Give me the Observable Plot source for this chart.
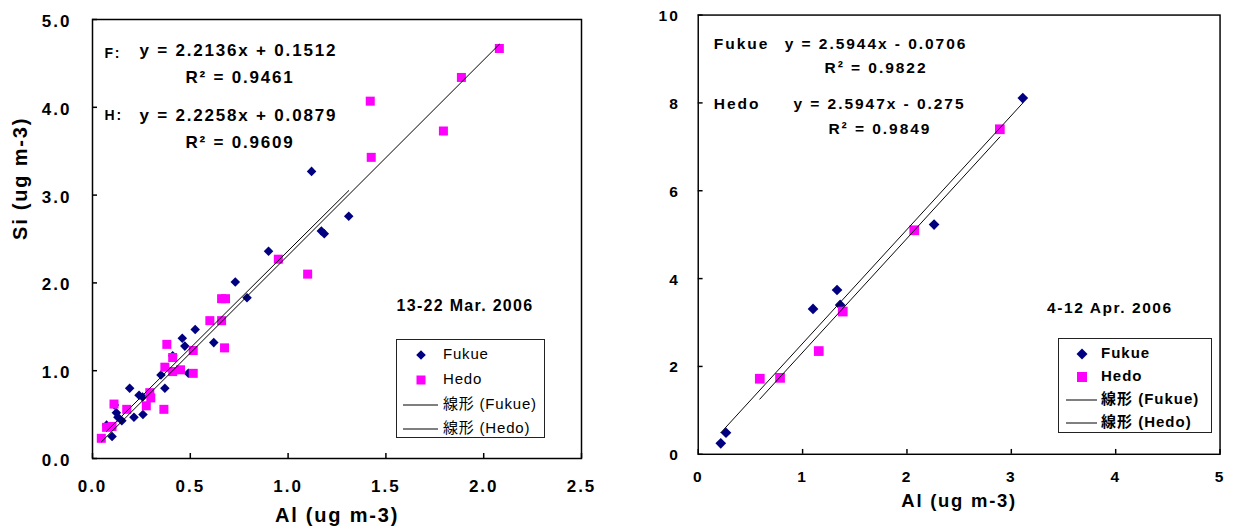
<!DOCTYPE html>
<html><head><meta charset="utf-8">
<script src="https://cdn.jsdelivr.net/npm/d3@7"></script>
<script src="https://cdn.jsdelivr.net/npm/@observablehq/plot@0.6"></script>
<style>
html,body{margin:0;padding:0;background:#fff;width:1239px;height:529px;overflow:hidden;position:relative;}
#left{position:absolute;left:0;top:0;}
#right{position:absolute;left:620px;top:0;}
svg text{font-family:"Liberation Sans","Noto Sans CJK JP",sans-serif;}
.legend{position:absolute;border:1px solid #222;background:#fff;font-family:"Liberation Sans","Noto Sans CJK JP",sans-serif;font-size:15px;color:#000;box-sizing:border-box;}
.legend .lbl{position:absolute;line-height:20px;height:20px;white-space:nowrap;}
.legend svg{position:absolute;overflow:visible;}
</style>
</head><body>
<div id="left"></div>
<div id="right"></div>
<script>
// ---------- data: 13-22 Mar. 2006 ----------
const leftFukueAl = [1.12, 1.31, 1.17, 1.185, 0.90, 0.73, 0.79, 0.525, 0.62, 0.459, 0.472, 0.49, 0.41, 0.35, 0.37, 0.19, 0.238, 0.256, 0.212, 0.258, 0.112, 0.122, 0.13, 0.15, 0.10, 0.072];
const leftFukueSi = [3.27, 2.76, 2.59, 2.56, 2.36, 2.01, 1.83, 1.47, 1.32, 1.37, 1.28, 0.97, 1.17, 0.95, 0.80, 0.80, 0.72, 0.70, 0.47, 0.50, 0.61, 0.52, 0.47, 0.43, 0.25, 0.38];
const leftHedoAl = [2.08, 1.886, 1.42, 1.794, 1.425, 0.95, 1.10, 0.66, 0.68, 0.60, 0.66, 0.675, 0.38, 0.515, 0.515, 0.41, 0.37, 0.41, 0.45, 0.365, 0.293, 0.298, 0.275, 0.175, 0.11, 0.072, 0.10, 0.045];
const leftHedoSi = [4.67, 4.34, 4.07, 3.73, 3.43, 2.27, 2.10, 1.82, 1.82, 1.57, 1.57, 1.26, 1.30, 1.23, 0.97, 1.15, 1.04, 0.99, 1.01, 0.56, 0.75, 0.69, 0.60, 0.56, 0.62, 0.355, 0.365, 0.23];
const leftSlopes = [2.2136, 2.2258];
const leftIntercepts = [0.1512, 0.0879];
const leftXTicks = [0, 0.5, 1.0, 1.5, 2.0, 2.5];
const leftYTicks = [0, 1, 2, 3, 4, 5];
const leftNotes = ["F:", "y = 2.2136x + 0.1512", "R² = 0.9461", "H:", "y = 2.2258x + 0.0879", "R² = 0.9609", "13-22 Mar. 2006"];

// ---------- data: 4-12 Apr. 2006 ----------
const rightFukueAl = [3.11, 2.26, 1.33, 1.36, 1.10, 0.266, 0.216];
const rightFukueSi = [8.11, 5.23, 3.74, 3.40, 3.31, 0.49, 0.25];
const rightHedoAl = [2.89, 2.07, 1.385, 1.155, 0.59, 0.784];
const rightHedoSi = [7.40, 5.10, 3.25, 2.35, 1.72, 1.74];
const rightSlopes = [2.5944, 2.5947];
const rightIntercepts = [-0.0706, -0.275];
const rightXTicks = [0, 1, 2, 3, 4, 5];
const rightYTicks = [0, 2, 4, 6, 8, 10];
const rightNotes = ["Fukue", "y = 2.5944x - 0.0706", "R² = 0.9822", "Hedo", "y = 2.5947x - 0.275", "R² = 0.9849", "4-12 Apr. 2006"];

const xTitle = "Al (ug m-3)";
const yTitle = "Si (ug m-3)";
const legendLabels = ["Fukue", "Hedo", "線形 (Fukue)", "線形 (Hedo)"];
const NAVY = "#000080", MAGENTA = "#FF00FF";

const pts = (xs, ys) => xs.map((x, i) => ({x, y: ys[i]}));
const fit = (xs, m, b) => [d3.min(xs), d3.max(xs)].map(x => ({x, y: m * x + b}));
const note = (t, dx, dy, size) => Plot.text([t], {text: d => d, frameAnchor: "top-left", textAnchor: "start", lineAnchor: "middle", dx, dy, fontSize: size, fontWeight: "bold"});
// inward 5px ticks: tick marks inset so only 5px next to the frame edge remain
const inTicksX = (ticks, frameH) => Plot.tickX(ticks, {x: d => d, stroke: "black", strokeWidth: 1.5, insetTop: frameH - 5});
const inTicksY = (ticks, frameW) => Plot.tickY(ticks, {y: d => d, stroke: "black", strokeWidth: 1.5, insetRight: frameW - 5});

function spacing(svg, notes, noteLs, dateLs) {
  d3.select(svg).selectAll("text").each(function () {
    const s = this.textContent;
    let ls = 2;
    if (s === notes[6]) ls = dateLs;
    else if (notes.includes(s)) ls = noteLs;
    else if (s === xTitle || s === yTitle) ls = 1.8;
    this.style.letterSpacing = ls + "px";
  });
}

// ---------- left chart ----------
const LW = 620, LH = 529, LML = 92, LMR = 39, LMT = 19, LMB = 71;
const left = Plot.plot({
  width: LW, height: LH, marginLeft: LML, marginRight: LMR, marginTop: LMT, marginBottom: LMB,
  style: {background: "transparent", overflow: "visible", color: "black"},
  x: {domain: [0, 2.5]},
  y: {domain: [0, 5]},
  marks: [
    inTicksX(leftXTicks, LH - LMT - LMB),
    inTicksY(leftYTicks, LW - LML - LMR),
    Plot.axisX({ticks: leftXTicks, tickSize: 0, tickPadding: 21, tickFormat: d3.format(".1f"), label: null, fontSize: 17, fontWeight: "bold"}),
    Plot.axisY({ticks: leftYTicks, tickSize: 0, tickPadding: 21, dy: 2, tickFormat: d3.format(".1f"), label: null, fontSize: 17, fontWeight: "bold"}),
    Plot.dot(pts(leftFukueAl, leftFukueSi), {x: "x", y: "y", symbol: "diamond2", r: 4.3, fill: NAVY, stroke: "none"}),
    Plot.dot(pts(leftHedoAl, leftHedoSi), {x: "x", y: "y", symbol: "square", r: 5.08, fill: MAGENTA, stroke: "none"}),
    Plot.line(fit(leftFukueAl, leftSlopes[0], leftIntercepts[0]), {x: "x", y: "y", stroke: "black", strokeWidth: 1}),
    Plot.line(fit(leftHedoAl, leftSlopes[1], leftIntercepts[1]), {x: "x", y: "y", stroke: "black", strokeWidth: 1}),
    Plot.frame({stroke: "black", strokeWidth: 1.5}),
    note(leftNotes[0], 12, 34, 14),
    note(leftNotes[1], 47, 31, 17),
    note(leftNotes[2], 93, 58, 17),
    note(leftNotes[3], 12, 96, 14),
    note(leftNotes[4], 47, 96, 17),
    note(leftNotes[5], 93, 123, 17),
    note(leftNotes[6], 304, 286, 16),
    Plot.text([xTitle], {text: d => d, frameAnchor: "bottom", lineAnchor: "middle", dy: 57, fontSize: 20, fontWeight: "bold"}),
    Plot.text([yTitle], {text: d => d, frameAnchor: "left", lineAnchor: "middle", rotate: -90, dx: -72, dy: 1, fontSize: 20, fontWeight: "bold"})
  ]
});
spacing(left, leftNotes, 1.8, 1.3);
document.getElementById("left").appendChild(left);

// ---------- right chart ----------
const RW = 637, RH = 529, RML = 80, RMR = 20, RMT = 15, RMB = 62;
const right = Plot.plot({
  width: RW, height: RH, marginLeft: RML, marginRight: RMR, marginTop: RMT, marginBottom: RMB,
  style: {background: "transparent", overflow: "visible", color: "black"},
  x: {domain: [0, 5]},
  y: {domain: [0, 10]},
  marks: [
    inTicksX(rightXTicks, RH - RMT - RMB),
    inTicksY(rightYTicks, RW - RML - RMR),
    Plot.axisX({ticks: rightXTicks, tickSize: 0, tickPadding: 17, tickFormat: d3.format("d"), label: null, fontSize: 16, fontWeight: "bold"}),
    Plot.axisY({ticks: rightYTicks, tickSize: 0, tickPadding: 19, dy: 1, tickFormat: d3.format("d"), label: null, fontSize: 16, fontWeight: "bold"}),
    Plot.dot(pts(rightFukueAl, rightFukueSi), {x: "x", y: "y", symbol: "diamond2", r: 4.95, fill: NAVY, stroke: "none"}),
    Plot.dot(pts(rightHedoAl, rightHedoSi), {x: "x", y: "y", symbol: "square", r: 5.64, fill: MAGENTA, stroke: "none"}),
    Plot.line(fit(rightFukueAl, rightSlopes[0], rightIntercepts[0]), {x: "x", y: "y", stroke: "black", strokeWidth: 1}),
    Plot.line(fit(rightHedoAl, rightSlopes[1], rightIntercepts[1]), {x: "x", y: "y", stroke: "black", strokeWidth: 1}),
    Plot.frame({stroke: "black", strokeWidth: 1.5}),
    note(rightNotes[0], 16, 30, 16),
    note(rightNotes[1], 89, 30, 16),
    note(rightNotes[2], 130, 54, 16),
    note(rightNotes[3], 16, 92, 16),
    note(rightNotes[4], 98, 92, 16),
    note(rightNotes[5], 134, 117, 16),
    note(rightNotes[6], 359, 301, 16),
    Plot.text([xTitle], {text: d => d, frameAnchor: "bottom", lineAnchor: "middle", dy: 48, fontSize: 19, fontWeight: "bold"})
  ]
});
spacing(right, rightNotes, 2, 1.6);
document.getElementById("right").appendChild(right);

// ---------- legends (HTML overlay) ----------
function legend(cfg) {
  const box = document.createElement("div");
  box.className = "legend";
  Object.assign(box.style, {left: cfg.left + "px", top: cfg.top + "px", width: cfg.width + "px", height: cfg.height + "px", fontWeight: cfg.bold ? "bold" : "normal", letterSpacing: cfg.spacing + "px"});
  const ns = "http://www.w3.org/2000/svg";
  legendLabels.forEach((lab, i) => {
    const cy = cfg.rows[i];
    const svg = document.createElementNS(ns, "svg");
    svg.setAttribute("width", cfg.width); svg.setAttribute("height", 1);
    svg.style.left = "0px"; svg.style.top = cy + "px";
    let el;
    if (i === 0) {
      const h = cfg.diamond;
      el = document.createElementNS(ns, "path");
      el.setAttribute("d", `M${cfg.mx},${-h}L${cfg.mx + h},0L${cfg.mx},${h}L${cfg.mx - h},0Z`);
      el.setAttribute("fill", NAVY);
    } else if (i === 1) {
      const h = cfg.square;
      el = document.createElementNS(ns, "rect");
      el.setAttribute("x", cfg.mx - h); el.setAttribute("y", -h);
      el.setAttribute("width", 2 * h); el.setAttribute("height", 2 * h);
      el.setAttribute("fill", MAGENTA);
    } else {
      el = document.createElementNS(ns, "line");
      el.setAttribute("x1", cfg.lx1); el.setAttribute("x2", cfg.lx2);
      el.setAttribute("y1", 0); el.setAttribute("y2", 0);
      el.setAttribute("stroke", "black"); el.setAttribute("stroke-width", 1);
    }
    svg.appendChild(el);
    box.appendChild(svg);
    const t = document.createElement("div");
    t.className = "lbl";
    t.textContent = lab;
    t.style.left = cfg.tx + "px"; t.style.top = (cy - 11) + "px";
    box.appendChild(t);
  });
  document.body.appendChild(box);
}
legend({left: 396, top: 339, width: 149, height: 99, rows: [15, 40, 65, 89], mx: 24, tx: 46, lx1: 6, lx2: 41, diamond: 4.8, square: 4.5, bold: false, spacing: 0.8});
legend({left: 1058, top: 338, width: 154, height: 95, rows: [15, 38, 61, 84], mx: 23, tx: 42, lx1: 7, lx2: 38, diamond: 5.5, square: 5, bold: true, spacing: 1});
</script>
</body></html>
